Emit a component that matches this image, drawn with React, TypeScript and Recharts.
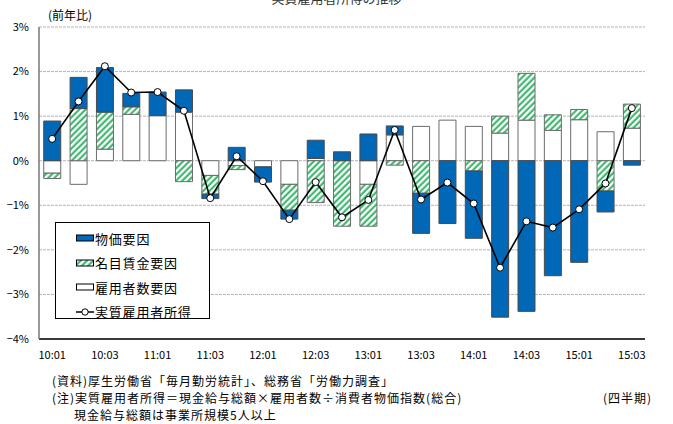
import React from "react"
import {
  ComposedChart,
  Bar,
  Line,
  XAxis,
  YAxis,
  CartesianGrid,
  Legend,
} from "recharts"

// 四半期
const quarters = [
  "10:01", "10:02", "10:03", "10:04",
  "11:01", "11:02", "11:03", "11:04",
  "12:01", "12:02", "12:03", "12:04",
  "13:01", "13:02", "13:03", "13:04",
  "14:01", "14:02", "14:03", "14:04",
  "15:01", "15:02", "15:03",
]

// 寄与度 (%)
const employeeFactor = [-0.28, -0.53, 0.26, 1.04, 1.01, 1.09, -0.33, -0.11, -0.13, -0.53, 0.05, 0, -0.53, 0.58, 0.77, 0.91, 0.77, 0.62, 0.91, 0.68, 0.92, 0.65, 0.73]
const wageFactor = [-0.12, 1.17, 0.83, 0.17, 0, -0.47, -0.42, -0.09, -0.02, -0.58, -0.94, -1.47, -0.94, -0.1, -0.73, 0, -0.23, 0.38, 1.05, 0.35, 0.23, -0.68, 0.54]
const priceFactor = [0.89, 0.7, 1.0, 0.3, 0.53, 0.5, -0.1, 0.3, -0.33, -0.2, 0.41, 0.2, 0.6, 0.2, -0.9, -1.41, -1.51, -3.51, -3.38, -2.58, -2.28, -0.47, -0.1]
const realIncome = [0.49, 1.33, 2.12, 1.53, 1.54, 1.12, -0.84, 0.1, -0.46, -1.31, -0.48, -1.27, -0.88, 0.69, -0.87, -0.49, -0.96, -2.4, -1.36, -1.5, -1.09, -0.51, 1.18]

const yTicks = [-4, -3, -2, -1, 0, 1, 2, 3]

const BLUE = "#0068b7"
const GREEN = "#2fb463"
const FONT = "'Noto Sans CJK JP', 'Noto Sans', sans-serif"

const data = quarters.map((q, i) => ({
  q,
  emp: employeeFactor[i],
  wage: wageFactor[i],
  price: priceFactor[i],
  real: realIncome[i],
}))

const fmtPct = (v: number) => (v < 0 ? `−${Math.abs(v)}%` : `${v}%`)

const legendItems = [
  { label: "物価要因", kind: "blue" },
  { label: "名目賃金要因", kind: "hatch" },
  { label: "雇用者数要因", kind: "white" },
  { label: "実質雇用者所得", kind: "line" },
]

function Swatch({ kind }: { kind: string }) {
  return (
    <svg width={20} height={10}>
      {kind === "line" ? (
        <>
          <line x1={1} y1={5} x2={19} y2={5} stroke="#000" strokeWidth={1.5} />
          <circle cx={10} cy={5} r={3.2} fill="#fff" stroke="#000" strokeWidth={1} />
        </>
      ) : (
        <rect
          x={1.5}
          y={2}
          width={17}
          height={6}
          fill={kind === "blue" ? BLUE : kind === "hatch" ? "url(#wageHatch)" : "#fff"}
          stroke="#000"
          strokeWidth={1}
        />
      )}
    </svg>
  )
}

const renderLegend = () => (
  <div
    style={{
      width: 155,
      height: 97,
      border: "1px solid #000",
      background: "#fff",
      boxSizing: "border-box",
      paddingTop: 3,
      paddingLeft: 19,
      fontFamily: FONT,
    }}
  >
    {legendItems.map((it) => (
      <div key={it.label} style={{ display: "flex", alignItems: "center", height: 24.5, fontSize: 13, letterSpacing: 0.8, color: "#000" }}>
        <Swatch kind={it.kind} />
        <span>{it.label}</span>
      </div>
    ))}
  </div>
)

export default function App() {
  return (
    <div style={{ position: "absolute", left: 0, top: 0, width: 673, height: 424, background: "#fff", overflow: "hidden", fontFamily: FONT }}>
      <svg width={0} height={0} style={{ position: "absolute" }}>
        <defs>
          <pattern id="wageHatch" patternUnits="userSpaceOnUse" width={4.4} height={4.4} patternTransform="rotate(45)">
            <rect width={4.4} height={4.4} fill="#fff" />
            <line x1={1.5} y1={0} x2={1.5} y2={4.4} stroke={GREEN} strokeWidth={2} />
          </pattern>
        </defs>
      </svg>

      <div style={{ position: "absolute", left: 0, width: 673, top: -12, textAlign: "center", fontSize: 13, color: "#333" }}>
        実質雇用者所得の推移
      </div>
      <div style={{ position: "absolute", left: 48, top: 6, fontSize: 12, color: "#000" }}>(前年比)</div>

      <ComposedChart
        width={673}
        height={370}
        data={data}
        stackOffset="sign"
        barCategoryGap="18%"
        margin={{ top: 27, right: 28, bottom: 1, left: 0 }}
      >
        <CartesianGrid vertical={false} stroke="#b4b4b4" strokeDasharray="3 1" />
        <XAxis
          dataKey="q"
          interval={1}
          tickLine={false}
          axisLine={{ stroke: "#000", strokeWidth: 1.5 }}
          height={30}
          tickMargin={6}
          tick={{ fontSize: 11, fill: "#000", fontFamily: FONT }}
        />
        <XAxis xAxisId="top" dataKey="q" orientation="top" height={0} tick={false} tickLine={false} axisLine={{ stroke: "#000", strokeWidth: 1.2 }} />
        <YAxis
          domain={[-4, 3]}
          ticks={yTicks}
          width={39}
          tickLine={false}
          tickSize={0}
          tickMargin={10}
          tickFormatter={fmtPct}
          axisLine={{ stroke: "#777", strokeWidth: 1.5 }}
          tick={{ fontSize: 11, fill: "#000", fontFamily: FONT }}
        />
        <YAxis yAxisId="right" orientation="right" domain={[-4, 3]} width={0} tick={false} tickLine={false} axisLine={{ stroke: "#000", strokeWidth: 1.2 }} />
        <Bar dataKey="emp" name="雇用者数要因" stackId="s" fill="#fff" stroke="#6b6b6b" strokeWidth={1} isAnimationActive={false} />
        <Bar dataKey="wage" name="名目賃金要因" stackId="s" fill="url(#wageHatch)" stroke="#6b6b6b" strokeWidth={1} isAnimationActive={false} />
        <Bar dataKey="price" name="物価要因" stackId="s" fill={BLUE} stroke="#4a4a4a" strokeWidth={1} isAnimationActive={false} />
        <Line
          dataKey="real"
          name="実質雇用者所得"
          type="linear"
          stroke="#000"
          strokeWidth={1.6}
          dot={{ r: 3.5, fill: "#fff", stroke: "#000", strokeWidth: 1 }}
          isAnimationActive={false}
        />
        <Legend
          layout="vertical"
          align="center"
          verticalAlign="middle"
          content={renderLegend}
          wrapperStyle={{ position: "absolute", left: 55, top: 222, width: 156, height: 98 }}
        />
      </ComposedChart>

      <div style={{ position: "absolute", left: 52, top: 372, fontSize: 12, lineHeight: "17px", letterSpacing: 1, color: "#000", whiteSpace: "nowrap" }}>
        <div>(資料)厚生労働省「毎月勤労統計」、総務省「労働力調査」</div>
        <div>(注)実質雇用者所得＝現金給与総額×雇用者数÷消費者物価指数(総合)</div>
        <div style={{ paddingLeft: 22 }}>現金給与総額は事業所規模5人以上</div>
      </div>
      <div style={{ position: "absolute", left: 603, top: 389, fontSize: 12, lineHeight: "17px", letterSpacing: 1, color: "#000" }}>(四半期)</div>
    </div>
  )
}
